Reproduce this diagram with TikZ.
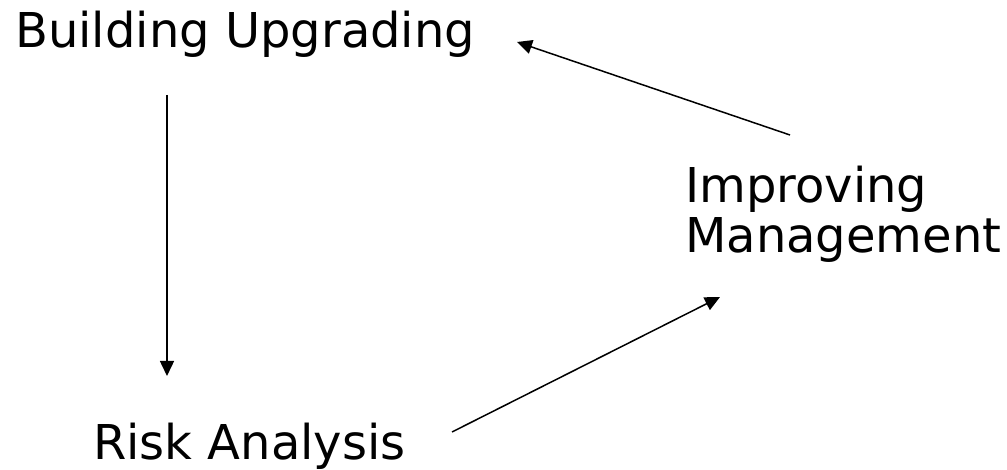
\documentclass[tikz,border=0pt]{standalone}
\usepackage{fontspec}
\setmainfont{DejaVu Sans}
\usetikzlibrary{arrows.meta}
\begin{document}
\begin{tikzpicture}[x=1pt,y=-1pt,
  lbl/.style={inner sep=0pt,font=\fontsize{48}{50}\selectfont,align=left},
  conn/.style={line width=1.5pt,-{Triangle[length=15pt,width=14pt]}}]
\useasboundingbox (0,0) rectangle (1007,470);
\node[lbl,anchor=base west] (bu) at (15,48) {Building Upgrading};
\node[lbl,anchor=base west] (im) at (685,253) {Improving\\Management};
\node[lbl,anchor=base west] (ra) at (93,459) {Risk Analysis};
\coordinate (bus) at (167,95);
\coordinate (ran) at (167,376);
\coordinate (rae) at (452,432);
\coordinate (ims) at (720,297);
\coordinate (imn) at (790,135);
\coordinate (bue) at (517,42);
\draw[conn] (bus) -- (ran);
\draw[conn] (rae) -- (ims);
\draw[conn] (imn) -- (bue);
\end{tikzpicture}
\end{document}
